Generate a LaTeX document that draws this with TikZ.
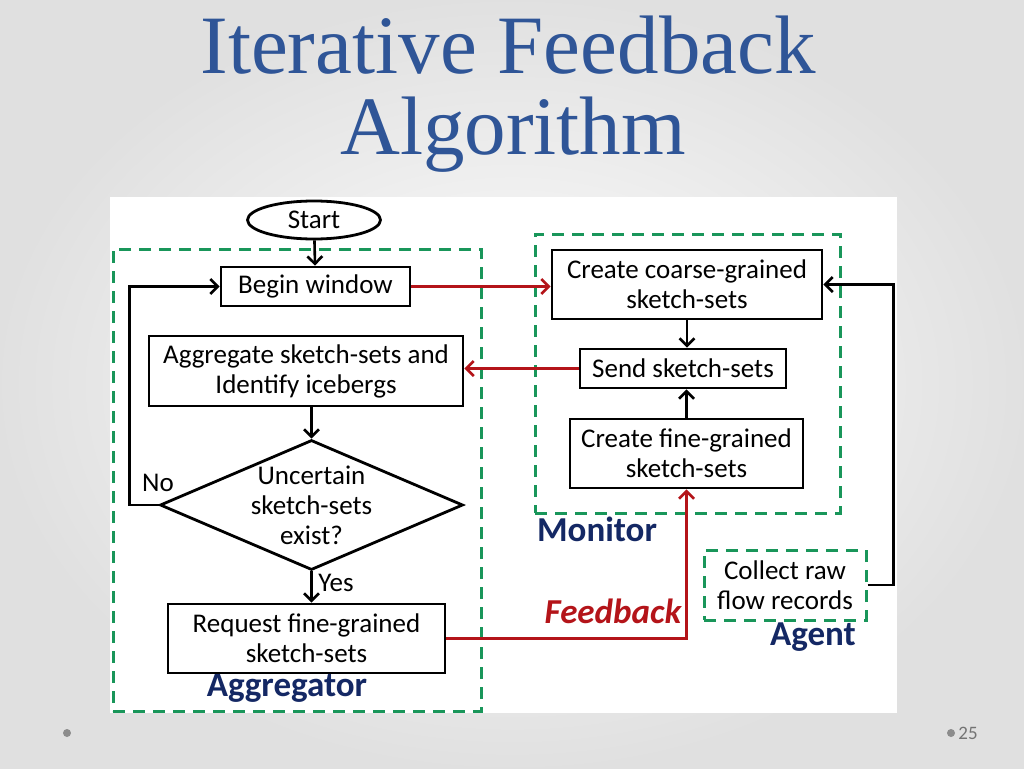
\documentclass[tikz,border=0pt]{standalone}
\usepackage{fontspec}
\setmainfont{Carlito}
\newfontfamily\titlefont{Liberation Serif}
\usetikzlibrary{shapes.geometric,arrows.meta,positioning}
\definecolor{grpgreen}{RGB}{25,150,90}
\definecolor{fbred}{RGB}{180,20,25}
\definecolor{navy}{RGB}{20,40,100}
\definecolor{titleblue}{RGB}{47,85,151}

\begin{document}
\begin{tikzpicture}[x=1pt,y=-1pt,>={Straight Barb[length=7.5pt,width=15pt]}]
\tikzset{
  box/.style={draw, line width=2.8pt, align=center, inner sep=2pt, font=\fontsize{27}{30}\selectfont},
  dec/.style={draw, diamond, line width=2.8pt, inner sep=0pt},
  grp/.style={draw=grpgreen, line width=3pt, dash pattern=on 12pt off 8pt, inner sep=0pt},
  flow/.style={->, line width=2.6pt},
  fb/.style={->, line width=2.6pt, fbred},
  tag/.style={font=\fontsize{35}{38}\selectfont\bfseries, text=navy, anchor=base},
  txt/.style={font=\fontsize{27}{30}\selectfont}
}
\useasboundingbox (0,0) rectangle (1024,768);
% ---------- slide ----------
\shade[inner color=white, outer color=black!12] (0,0) rectangle (1024,768);
\node[font=\titlefont\fontsize{83}{80}\selectfont, text=titleblue, anchor=base] (title1) at (508,74) {Iterative Feedback};
\node[font=\titlefont\fontsize{83}{80}\selectfont, text=titleblue, anchor=base] (title2) at (513,154) {Algorithm};
\fill[black!45] (67,733) circle (4pt);
\fill[black!45] (951,733) circle (4pt);
\node[font=\fontsize{19}{22}\selectfont, text=black!55] (pnum) at (968,733) {25};
\fill[white] (110,197) rectangle (897,713);
% ---------- groups ----------
\node[grp, minimum width=368pt, minimum height=462pt] (aggr) at (297,480) {};
\node[grp, minimum width=305pt, minimum height=279pt] (mon) at (687.5,373.5) {};
\node[grp, txt, align=center, minimum width=162pt, minimum height=70pt] (agent) at (785,585) {Collect raw\\flow records};
\node[tag] (aggrlbl) at (287,696) {Aggregator};
\node[tag] (monlbl) at (597,541) {Monitor};
\node[tag] (agentlbl) at (813,645) {Agent};
% ---------- aggregator ----------
\node[box, ellipse, minimum width=133pt, minimum height=38pt, inner sep=0pt] (start) at (314,220) {Start};
\node[box, minimum width=189pt, minimum height=39pt] (begin) at (315.5,286.5) {Begin window};
\node[box, minimum width=314pt, minimum height=70pt] (agg) at (306,371) {Aggregate sketch-sets and\\Identify icebergs};
\node[dec, minimum width=303pt, minimum height=130pt,
  label={[txt, align=center]center:{Uncertain\\sketch-sets\\exist?}}] (chk) at (311.5,505) {};
\node[box, minimum width=277pt, minimum height=69pt] (req) at (306.5,638.5) {Request fine-grained\\sketch-sets};
\node[txt, anchor=base] (no) at (158,491) {No};
\node[txt, anchor=base] (yes) at (336,591) {Yes};
% ---------- monitor ----------
\node[box, minimum width=270pt, minimum height=69pt] (coarse) at (687,284.5) {Create coarse-grained\\sketch-sets};
\node[box, minimum width=206pt, minimum height=39pt] (send) at (683,368.5) {Send sketch-sets};
\node[box, minimum width=233pt, minimum height=69pt] (fine) at (686.5,453.5) {Create fine-grained\\sketch-sets};
\node[font=\fontsize{35}{38}\selectfont\bfseries\itshape, text=fbred, anchor=base] (fblbl) at (613,623) {Feedback};
% ---------- connectors ----------
\draw[flow] (start) -- (begin);
\draw[flow] (chk.north |- agg.south) -- (chk.north);
\draw[flow] (chk.south) -- (chk.south |- req.north);
\draw[flow] (chk.west) -- ++(-29,0) |- (begin.west);
\draw[fb] (begin.east) -- (begin.east -| coarse.west);
\draw[flow] (coarse.south) -- (coarse.south |- send.north);
\draw[flow] (fine.north) -- (fine.north |- send.south);
\draw[fb] (send.west) -- (send.west -| agg.east);
\draw[fb] (req.east) -| (fine.south);
\draw[flow] (agent.east) -- ++(26,0) |- (coarse.east);
\end{tikzpicture}
\end{document}
